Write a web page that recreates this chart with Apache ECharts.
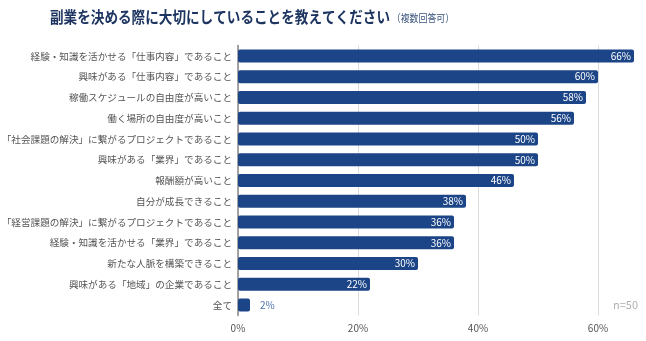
<!DOCTYPE html>
<html><head><meta charset="utf-8">
<script src="https://cdn.jsdelivr.net/npm/echarts@6/dist/echarts.min.js"></script>
<style>html,body{margin:0;padding:0;background:#fff}#c{width:646px;height:341px}</style>
</head><body><div id="c"></div>
<script>
const categories = [
  "経験・知識を活かせる「仕事内容」であること",
  "興味がある「仕事内容」であること",
  "稼働スケジュールの自由度が高いこと",
  "働く場所の自由度が高いこと",
  "「社会課題の解決」に繋がるプロジェクトであること",
  "興味がある「業界」であること",
  "報酬額が高いこと",
  "自分が成長できること",
  "「経営課題の解決」に繋がるプロジェクトであること",
  "経験・知識を活かせる「業界」であること",
  "新たな人脈を構築できること",
  "興味がある「地域」の企業であること",
  "全て"
];
const values = [66, 60, 58, 56, 50, 50, 46, 38, 36, 36, 30, 22, 2];
const tickValues = [0, 20, 40, 60];
const titleMain = "副業を決める際に大切にしていることを教えてください";
const titleSub = "（複数回答可）";
const sampleNote = "n=50";

const font = "'Noto Sans CJK JP', 'Noto Sans', sans-serif";
const chart = echarts.init(document.getElementById('c'));
chart.setOption({
  animation: false,
  graphic: [{
    type: 'text', x: 50, y: 17, scaleX: 0.85,
    style: {
      text: '{a|' + titleMain + '}{b|' + titleSub + '}',
      verticalAlign: 'middle',
      rich: {
        a: { fontSize: 16, fontWeight: 'bold', fill: '#1d3560', fontFamily: font },
        b: { fontSize: 10.5, fontWeight: 'normal', fill: '#3d557f', fontFamily: font, padding: [2, 0, 0, 2] }
      }
    }
  }, {
    type: 'text', right: 8, top: 299,
    style: { text: sampleNote, fill: '#b0b0b0', font: "11px " + font }
  }],
  grid: { left: 238, right: -12, top: 45.5, bottom: 25.5, outerBoundsMode: 'none', containLabel: false },
  xAxis: {
    type: 'value', min: 0, max: 70, interval: 20,
    axisLine: { show: false }, axisTick: { show: false },
    splitLine: { lineStyle: { color: '#dcdcdc', width: 1 } },
    axisLabel: {
      color: '#555', fontSize: 10, fontFamily: font, margin: 8,
      formatter: v => tickValues.includes(v) ? v + '%' : ''
    }
  },
  yAxis: {
    type: 'category', inverse: true, data: categories,
    axisLine: { show: true, lineStyle: { color: '#888', width: 1.5 } },
    axisTick: { show: false },
    axisLabel: { color: '#555', fontSize: 9.6, fontFamily: font, margin: 6 }
  },
  series: [{
    type: 'bar', data: values.map(v => ({
      value: v,
      label: v < 10 ? { position: 'right', color: '#4a6fb0', distance: 10 } : {}
    })),
    barWidth: 13,
    itemStyle: { color: '#1c4587', borderRadius: 2 },
    label: {
      show: true, position: 'insideRight', color: '#fff', fontSize: 10,
      fontFamily: font, distance: 3, formatter: '{c}%'
    }
  }]
});
</script></body></html>
